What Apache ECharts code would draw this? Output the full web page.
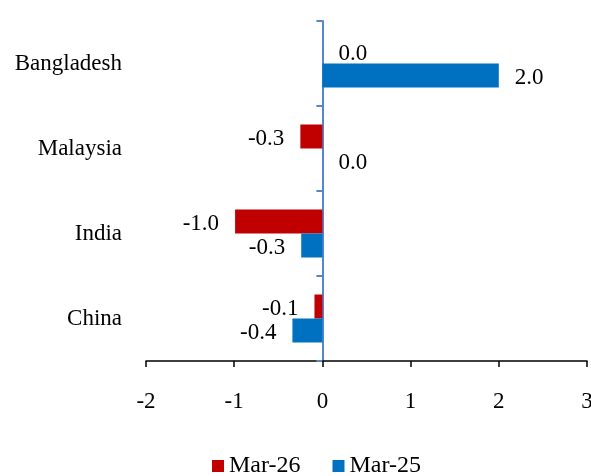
<!DOCTYPE html>
<html>
<head>
<meta charset="utf-8">
<script src="https://cdn.jsdelivr.net/npm/echarts@6/dist/echarts.min.js"></script>
<style>
  html, body { margin: 0; padding: 0; background: #fff; }
  #chart { width: 591px; height: 476px; }
</style>
</head>
<body>
<div id="chart"></div>
<script>
// categories, bottom to top
var countries = ["China", "India", "Malaysia", "Bangladesh"];
var seriesNames = ["Mar-26", "Mar-25"];
// bar lengths
var mar26 = [-0.09, -0.99, -0.25, 0.0];
var mar25 = [-0.34, -0.24, 0.0, 2.0];
// value labels as printed on the chart
var mar26Labels = ["-0.1", "-1.0", "-0.3", "0.0"];
var mar25Labels = ["-0.4", "-0.3", "0.0", "2.0"];
var xTicks = [-2, -1, 0, 1, 2, 3];

var font = "'Liberation Serif', 'Times New Roman', serif";
var colors = ["#C00000", "#0070C0"];
var axisBlue = "#5587CF";

function makeSeries(name, values, labels, color) {
  return {
    name: name,
    type: "bar",
    barWidth: 24,
    barGap: "0%",
    itemStyle: { color: color },
    data: values.map(function (v, i) {
      return {
        value: v,
        label: {
          show: true,
          position: v < 0 ? "left" : "right",
          distance: 16,
          offset: [0, 2],
          formatter: labels[i],
          color: "#000",
          fontFamily: font,
          fontSize: 23
        }
      };
    })
  };
}

var chart = echarts.init(document.getElementById("chart"));
chart.setOption({
  animation: false,
  color: colors,
  textStyle: { fontFamily: font, color: "#000" },
  grid: {
    left: 146, right: 4, top: 21, bottom: 115,
    containLabel: false,
    outerBoundsMode: "none"
  },
  legend: {
    data: seriesNames,
    left: 212,
    top: 454,
    padding: 0,
    itemWidth: 12,
    itemHeight: 12,
    itemGap: 32,
    icon: "rect",
    textStyle: { fontFamily: font, fontSize: 24, color: "#000" }
  },
  xAxis: {
    type: "value",
    min: xTicks[0],
    max: xTicks[xTicks.length - 1],
    interval: 1,
    splitLine: { show: false },
    axisLine: { show: true, onZero: false, lineStyle: { color: "#000", width: 1.5 } },
    axisTick: { show: true, length: 6, lineStyle: { color: "#000", width: 1.5 } },
    axisLabel: { margin: 29, fontFamily: font, fontSize: 23, color: "#000" }
  },
  yAxis: [
    {
      type: "category",
      data: countries,
      axisLine: { show: false, onZero: false },
      axisTick: { show: false },
      axisLabel: { margin: 24, fontFamily: font, fontSize: 23, color: "#000" }
    },
    {
      type: "category",
      data: countries,
      position: "left",
      axisLine: { show: true, onZero: true, lineStyle: { color: axisBlue, width: 2 } },
      axisTick: { show: true, length: 6, lineStyle: { color: axisBlue, width: 2 } },
      axisLabel: { show: false }
    }
  ],
  series: [
    makeSeries(seriesNames[0], mar26, mar26Labels, colors[0]),
    makeSeries(seriesNames[1], mar25, mar25Labels, colors[1])
  ]
});
</script>
</body>
</html>
